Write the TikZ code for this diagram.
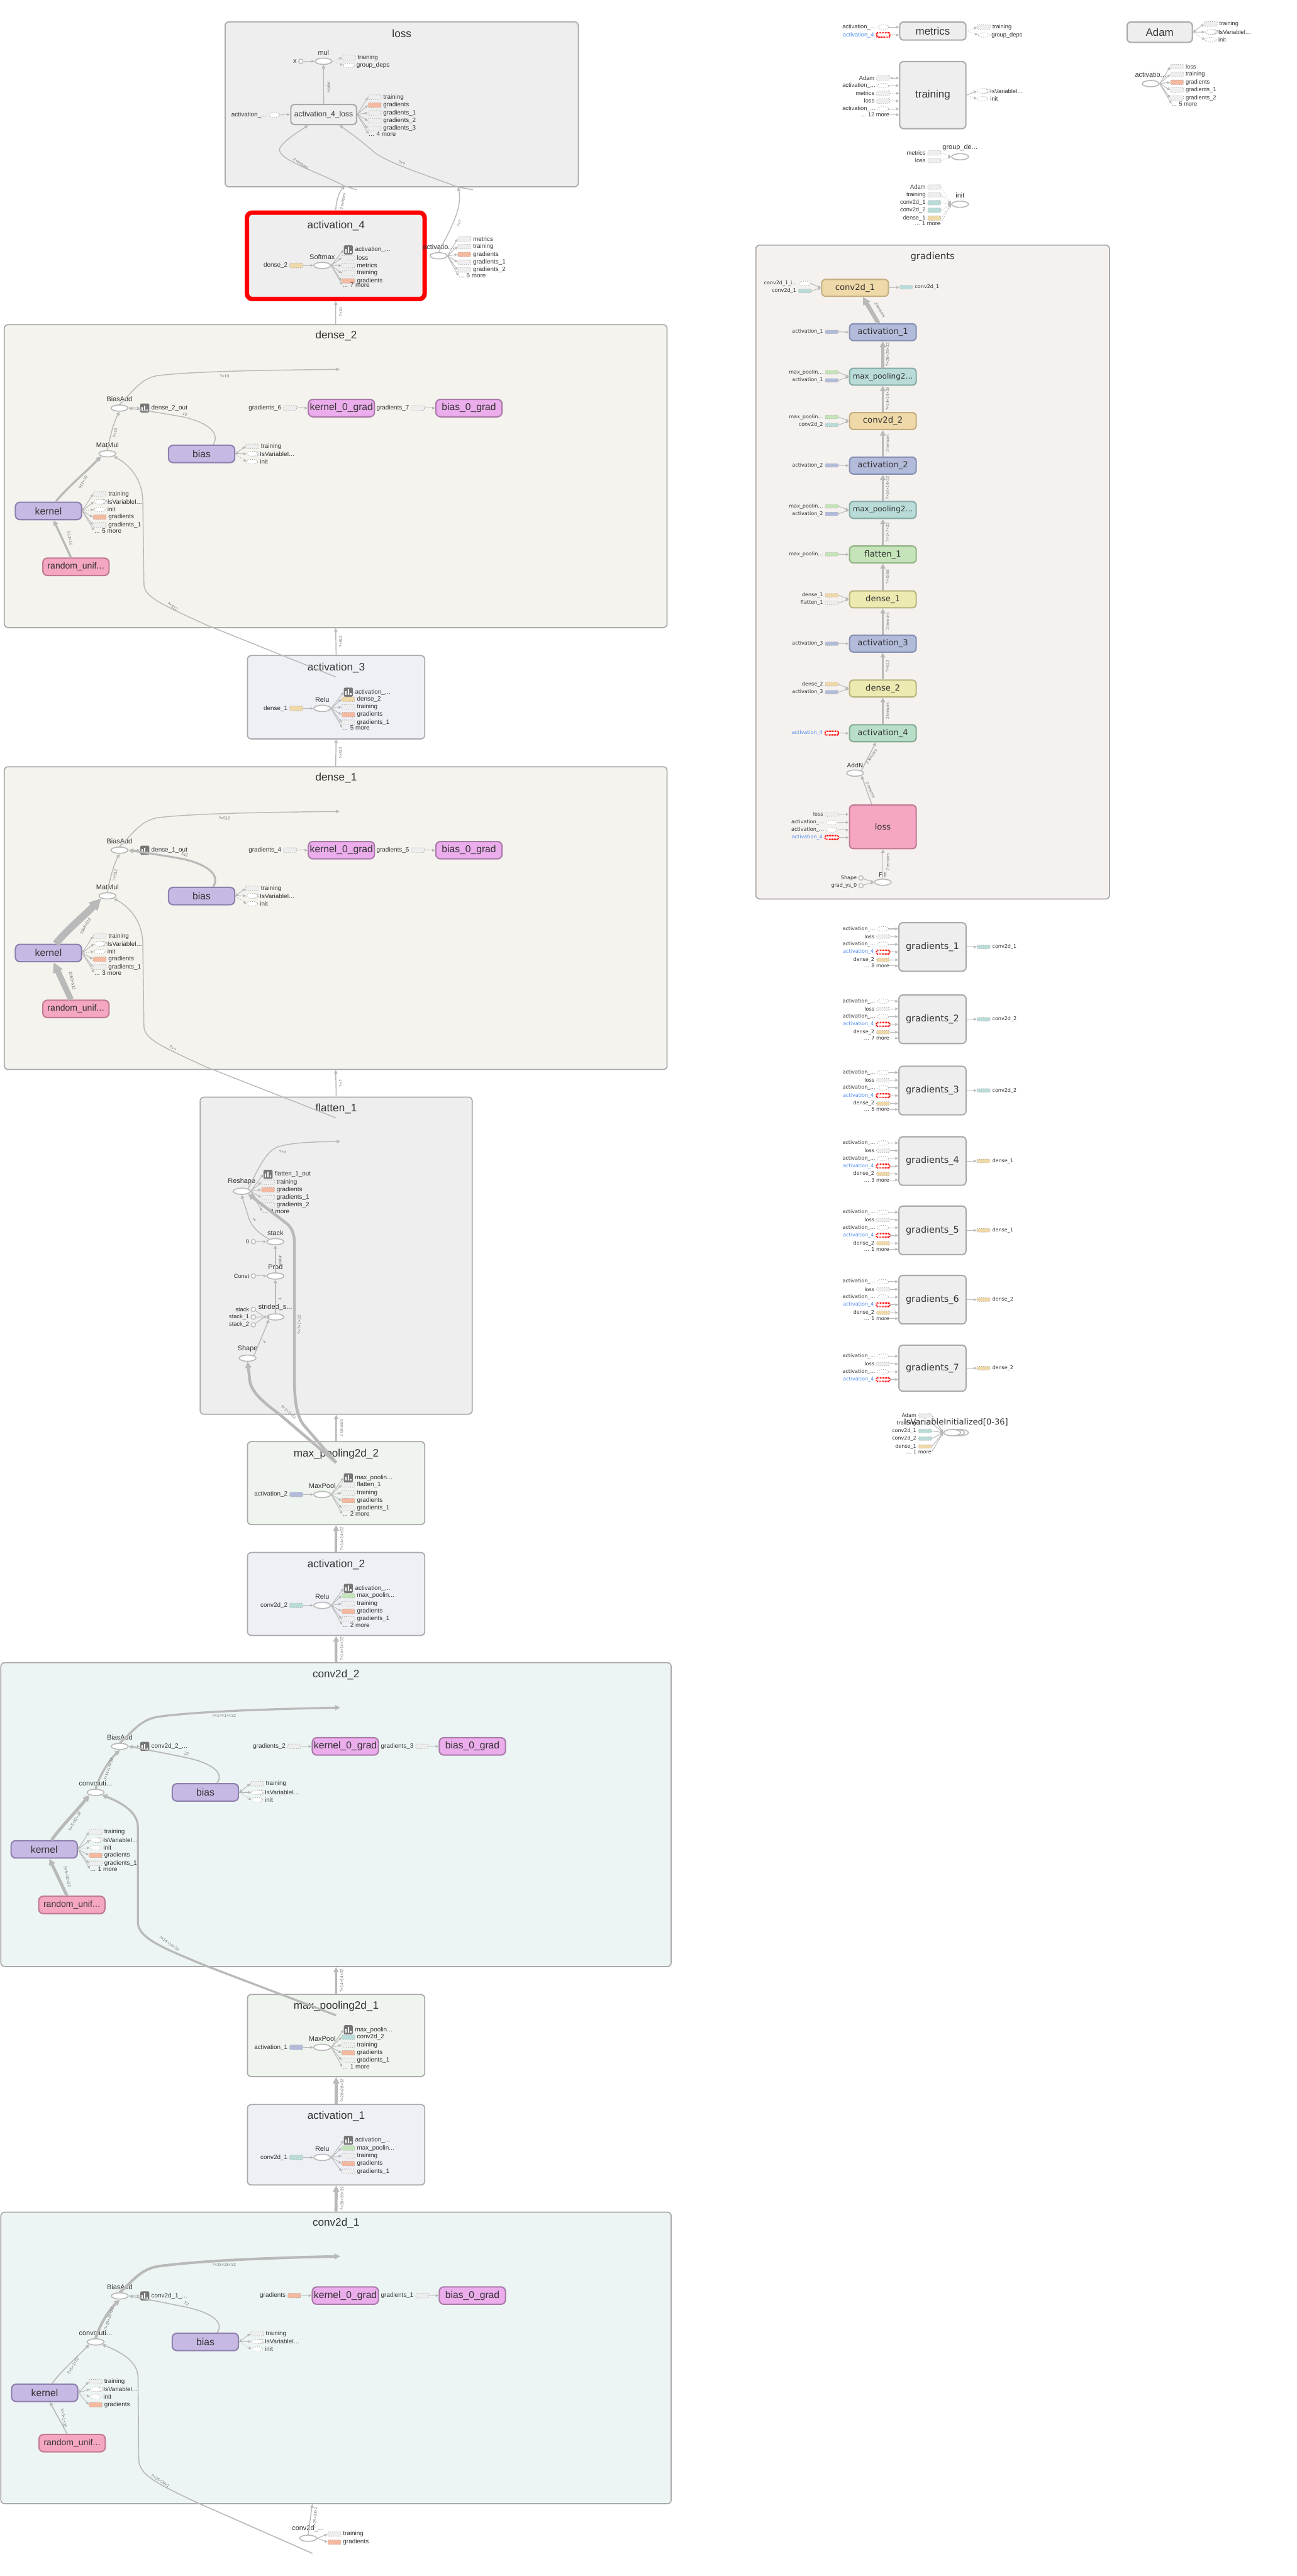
\documentclass[tikz,border=0pt]{standalone}
\usepackage{fontspec}
\setmainfont{Liberation Sans}
\newfontfamily\widefont{DejaVu Sans}
\usetikzlibrary{positioning,arrows.meta,shapes.geometric,shadows,fit}

\definecolor{edgec}{HTML}{B9B9B9}
\definecolor{clusb}{HTML}{AAAAAA}
\definecolor{stubb}{HTML}{A8A8A8}
\definecolor{txt}{HTML}{333333}
\definecolor{lblc}{HTML}{777777}
\definecolor{fgray}{HTML}{EEEEEE}
\definecolor{fdense}{HTML}{F4F3EE}
\definecolor{fact}{HTML}{EEF0F5}
\definecolor{fpool}{HTML}{F0F4EE}
\definecolor{fconv}{HTML}{EDF5F4}
\definecolor{fgrad}{HTML}{F5F1EE}
\definecolor{purpf}{HTML}{C6B9E3}
\definecolor{purpd}{HTML}{8E80AE}
\definecolor{pinkf}{HTML}{F5A6C0}
\definecolor{pinkd}{HTML}{C07A94}
\definecolor{magf}{HTML}{EBADEB}
\definecolor{magd}{HTML}{A97AA9}
\definecolor{tanc}{HTML}{F0D9A8}
\definecolor{tand}{HTML}{C4AE80}
\definecolor{bluec}{HTML}{B3BBDA}
\definecolor{blued}{HTML}{8590B4}
\definecolor{tealc}{HTML}{BADCD9}
\definecolor{teald}{HTML}{86ABA7}
\definecolor{greenc}{HTML}{C5E4B9}
\definecolor{greend}{HTML}{92B486}
\definecolor{yelc}{HTML}{EDEAB1}
\definecolor{yeld}{HTML}{B8B47E}
\definecolor{mintc}{HTML}{B8DDC8}
\definecolor{mintd}{HTML}{84AC94}
\definecolor{salm}{HTML}{F4B9A0}
\definecolor{iconc}{HTML}{777777}
\definecolor{linkc}{HTML}{4D8BF0}

\newcommand{\ddd}{.\kern0.02em.\kern0.02em.}
\newcommand{\fanout}[4]{%
  \foreach \yy/\st/\es/\tx [count=\i] in {#4}{%
    \node[\st] (#3\i) at (#2,\yy) {};
    \node[fanlbl, anchor=west] (#3\i-t) at ([xshift=1.3pt]#3\i.east) {\tx};
    \draw[\es] (#1) -- (#3\i.west);
  }}
\newcommand{\fanin}[4]{%
  \foreach \yy/\st/\es/\tx [count=\i] in {#4}{%
    \node[\st] (#3\i) at (#2,\yy) {};
    \node[fanlbl, anchor=east] (#3\i-t) at ([xshift=-1.3pt]#3\i.west) {\tx};
    \draw[\es] (#3\i.east) -- (#1);
  }}
\newcommand{\actgroup}[7]{%
  \begin{scope}[shift={(0,#2)}]
    \node[op] (#1op) at (196.1,32.2) {};
    \node[oplbl, above=1.8pt of #1op] (#1op-l) {#3};
    \fanin{#1op.west}{180.3}{#1in}{32.2/#4/fe/#5}
    \fanout{#1op.east}{212}{#1out}{#6}
    \ifx\relax#7\relax\else
      \node[fanlbl, anchor=west] (#1more) at (208.3,44.1) {#7};
      \draw[fe] (#1op.east) -- (#1more.west);
    \fi
  \end{scope}}

\begin{document}
\begin{tikzpicture}[x=0.0445cm, y=-0.0445cm,
  clus/.style={draw=clusb, line width=0.85pt, rounded corners=3pt, inner sep=0pt},
  ttl/.style={text=txt, font=\fontsize{8.3}{9}\selectfont, inner sep=0pt},
  op/.style={ellipse, draw=edgec, fill=white, line width=0.8pt, minimum width=13pt, minimum height=4.8pt, inner sep=0pt},
  oplbl/.style={text=txt, font=\fontsize{5.3}{6}\selectfont, inner sep=0pt},
  clbl/.style={text=txt, font=\fontsize{4.5}{5}\selectfont, inner sep=0pt},
  cst/.style={circle, draw=edgec, fill=white, line width=0.7pt, minimum size=3.4pt, inner sep=0pt},
  stub/.style={rectangle, rounded corners=0.6pt, draw=stubb, densely dotted, line width=0.45pt, fill=fgray, minimum width=10pt, minimum height=3.6pt, inner sep=0pt},
  sgray/.style={stub},
  sor/.style={stub, fill=salm},
  steal/.style={stub, fill=tealc},
  stan/.style={stub, fill=tanc},
  sblue/.style={stub, fill=bluec},
  sgreen/.style={stub, fill=greenc},
  sred/.style={stub, draw=red, solid, dash pattern=on 0.7pt off 0.5pt, line width=1.1pt, fill=white},
  swhite/.style={ellipse, draw=stubb, densely dotted, line width=0.45pt, fill=white, minimum width=8.5pt, minimum height=3.6pt, inner sep=0pt},
  svar/.style={swhite, double copy shadow={shadow xshift=1pt, shadow yshift=0pt}},
  summ/.style={rectangle, rounded corners=0.8pt, fill=iconc, minimum width=7pt, minimum height=7pt, inner sep=0pt,
    path picture={
      \fill[white, sharp corners] ([xshift=-2.4pt,yshift=1.2pt]path picture bounding box.south) rectangle ++(1.1pt,3pt);
      \fill[white, sharp corners] ([xshift=-0.55pt,yshift=1.2pt]path picture bounding box.south) rectangle ++(1.1pt,4.4pt);
      \fill[white, sharp corners] ([xshift=1.3pt,yshift=1.2pt]path picture bounding box.south) rectangle ++(1.1pt,1.4pt);}},
  fanlbl/.style={text=txt, font=\fontsize{4.8}{5}\selectfont, inner sep=0pt},
  fe/.style={draw=edgec, line width=0.5pt, -{Triangle[length=2.3pt,width=2.1pt]}},
  fb/.style={draw=edgec, line width=0.5pt, {Triangle[length=2.3pt,width=2.1pt]}-{Triangle[length=2.3pt,width=2.1pt]}},
  fd/.style={fe, densely dotted},
  ed/.style={draw=edgec, line width=0.7pt, -{Triangle[length=1.8pt 1.3,width=1.8pt 1.3]}},
  elbl/.style={text=lblc, font=\fontsize{3.2}{3.5}\selectfont, inner sep=0pt},
  plainnode/.style={draw=clusb, fill=fgray, line width=1pt, rounded corners=3pt, inner sep=0pt, text=txt, font=\fontsize{8.2}{9}\selectfont},
  layernode/.style={rounded corners=3.5pt, line width=1pt, inner sep=0pt, text=txt, minimum width=51pt, minimum height=13.4pt, font=\fontsize{7.6}{9}\selectfont},
  purpnode/.style={layernode, fill=purpf, draw=purpd},
  pinknode/.style={layernode, fill=pinkf, draw=pinkd, font=\fontsize{6.8}{8}\selectfont},
  magnode/.style={layernode, fill=magf, draw=magd},
  gnode/.style={rounded corners=3pt, line width=1pt, minimum width=51.4pt, minimum height=13pt, inner sep=0pt, text=txt, font=\widefont\fontsize{6.4}{7}\selectfont}
]
\useasboundingbox (0,0) rectangle (789,1568);

\node[clus, fill=fgray, fit={(137,13.3) (352,113.7)}] (lossbox) {};
\node[clus, fill=fgray, draw=red, line width=3.4pt, rounded corners=4pt, fit={(150.3,129.4) (258.4,182)}] (act4box) {};
\node[clus, fill=fdense, fit={(2.6,197.6) (406,382)}] (dense2box) {};
\node[clus, fill=fact, fit={(150.6,399) (258.5,449.8)}] (act3box) {};
\node[clus, fill=fdense, fit={(2.6,466.7) (406,651)}] (dense1box) {};
\node[clus, fill=fgray, fit={(121.8,667.8) (287.4,860.8)}] (flatbox) {};
\node[clus, fill=fpool, fit={(150.6,877.5) (258.5,928)}] (mp2box) {};
\node[clus, fill=fact, fit={(150.6,945) (258.5,995.5)}] (act2box) {};
\node[clus, fill=fconv, fit={(0.5,1012) (408.5,1197)}] (conv2box) {};
\node[clus, fill=fpool, fit={(150.6,1214) (258.5,1264)}] (mp1box) {};
\node[clus, fill=fact, fit={(150.6,1281) (258.5,1330)}] (act1box) {};
\node[clus, fill=fconv, fit={(0.5,1346.5) (408.5,1524)}] (conv1box) {};
\node[clus, fill=fgrad, fit={(460,149.2) (675.3,547.2)}] (gradbox) {};

\node[ttl] (losst) at (244.5,20.5) {loss};
\node[ttl] (act4t) at (204.5,137.3) {activation\_4};
\node[ttl] (dense2t) at (204.6,204.6) {dense\_2};
\node[ttl] (act3t) at (204.6,406.5) {activation\_3};
\node[ttl] (dense1t) at (204.6,473.7) {dense\_1};
\node[ttl] (flatt) at (204.6,674.7) {flatten\_1};
\node[ttl] (mp2t) at (204.6,885) {max\_pooling2d\_2};
\node[ttl] (act2t) at (204.6,952.3) {activation\_2};
\node[ttl] (conv2t) at (204.5,1019.3) {conv2d\_2};
\node[ttl] (mp1t) at (204.6,1221.3) {max\_pooling2d\_1};
\node[ttl] (act1t) at (204.6,1288.3) {activation\_1};
\node[ttl] (conv1t) at (204.5,1353.3) {conv2d\_1};
\node[ttl, font=\widefont\fontsize{7.2}{8}\selectfont] (gradt) at (567.6,156.3) {gradients};

\draw[ed] (dense2box.north) -- (act4box.south);
\node[elbl, rotate=90] at (207.4,189.8) {?×10};
\draw[ed] (act3box.north) -- (dense2box.south);
\node[elbl, rotate=90] at (207.4,390.5) {?×512};
\draw[ed] (dense1box.north) -- (act3box.south);
\node[elbl, rotate=90] at (207.4,458.2) {?×512};
\draw[ed] (flatbox.north) -- (dense1box.south);
\node[elbl, rotate=90] at (207.4,659.4) {?×?};
\draw[ed, line width=1.2pt] (mp2box.north) -- (flatbox.south);
\node[elbl, rotate=90] at (207.8,869.2) {2 tensors};
\draw[ed, line width=2pt] (act2box.north) -- (mp2box.south);
\node[elbl, rotate=90] at (208,936.5) {?×14×14×32};
\draw[ed, line width=2pt] (conv2box.north) -- (act2box.south);
\node[elbl, rotate=90] at (208,1003.7) {?×14×14×32};
\draw[ed, line width=1.6pt] (mp1box.north) -- (conv2box.south);
\node[elbl, rotate=90] at (208,1205.5) {?×14×14×32};
\draw[ed, line width=2.4pt] (act1box.north) -- (mp1box.south);
\node[elbl, rotate=90] at (208.2,1272.5) {?×28×28×32};
\draw[ed, line width=2.4pt] (conv1box.north) -- (act1box.south);
\node[elbl, rotate=90] at (208.2,1338.2) {?×28×28×32};

\node[op] (mul) at (196.9,37.3) {};
\node[oplbl, above=1.8pt of mul] (mul-l) {mul};
\node[cst] (xc) at (183.1,37.3) {};
\node[oplbl, left=1pt of xc] (xc-l) {x};
\draw[fe] (xc) -- (mul);
\fanout{mul.east}{212.3}{mulo}{35.1/sgray/fd/training, 39.8/swhite/fd/group\_deps}
\node[plainnode, minimum width=50.7pt, minimum height=15.5pt, font=\fontsize{5.9}{7}\selectfont] (a4loss) at (197,69.7) {activation\_4\_loss};
\fanin{a4loss.west}{167}{a4li}{70/swhite/fe/activation\_\ddd}
\draw[ed] (a4loss) -- (mul);
\node[elbl, rotate=90] (scal-l) at (199.8,53) {scalar};
\fanout{a4loss.east}{228}{a4lo}{59.2/sgray/fe/training, 64/sor/fe/gradients, 68.7/sgray/fe/gradients\_1, 73.5/sgray/fe/gradients\_2, 78.2/sgray/fe/gradients\_3}
\node[fanlbl, anchor=west] (a4lo-m) at (224.3,81.6) {\ddd{} 4 more};
\draw[fe] (a4loss.east) -- (a4lo-m.west);

\actgroup{a4}{129.4}{Softmax}{stan}{dense\_2}{22.7/summ/fe/activation\_\ddd, 27.5/sgray/fe/loss, 32.2/sgray/fe/metrics, 36.9/sgray/fe/training, 41.6/sor/fe/gradients}{\ddd{} 7 more}
\node[op] (a4x) at (266.9,155.7) {};
\node[oplbl, above=1.8pt of a4x] (a4x-l) {activatio\ddd};
\fanout{a4x.east}{282.6}{a4xo}{145.4/sgray/fe/metrics, 150.1/sgray/fe/training, 154.9/sor/fe/gradients, 159.6/sgray/fe/gradients\_1, 164.3/sgray/fe/gradients\_2}
\node[fanlbl, anchor=west] (a4xo-m) at (279,167.9) {\ddd{} 5 more};
\draw[fe] (a4x.east) -- (a4xo-m.west);

\coordinate (l2in) at (209.9,113.3);
\coordinate (l2tail) at (217,115.5);
\coordinate (l3in) at (278.8,113.9);
\coordinate (l3tail) at (287.9,115.5);
\draw[ed] (act4box.north) .. controls (204.5,121) and (207,116) .. (l2in);
\node[elbl, rotate=80] at (208.6,122.5) {2 tensors};
\draw[draw=edgec, line width=0.7pt] (l2in) -- (l2tail);
\draw[ed] (l2in) .. controls (190,103) and (165,96) .. (171,89) .. controls (175,84) and (182,80) .. ([xshift=-12pt]a4loss.south);
\node[elbl, rotate=-32] at (183,99.5) {2 tensors};
\draw[ed] (a4x.north) .. controls (271,145) and (282,128) .. (l3in);
\node[elbl, rotate=72] at (279.5,136) {?×?};
\draw[draw=edgec, line width=0.7pt] (l3in) -- (l3tail);
\draw[ed] (l3in) .. controls (258,106) and (235,99) .. (227,92) .. controls (219,85) and (212,80) .. ([xshift=12pt]a4loss.south);
\node[elbl, rotate=-22] at (244.5,99.3) {?×?};

\begin{scope}[shift={(0,197.6)}]
\node[op] (d2add) at (72.7,50.8) {};
\node[oplbl, above=1.8pt of d2add] (d2add-l) {BiasAdd};
\node[summ] (d2sum) at (88.1,50.8) {};
\node[fanlbl, anchor=west] (d2sum-l) at (92,50.8) {dense\_2\_out};
\draw[fe] (d2add) -- (d2sum);
\coordinate (d2out) at (206.7,27.2);
\draw[ed] (d2add.north) .. controls (81,41) and (85,33) .. (96,31) .. controls (118,28.5) and (155,27.8) .. (d2out);
\node[elbl] at (136.6,31.3) {?×10};
\node[op] (d2mm) at (65.4,78.6) {};
\node[oplbl, above=1.8pt of d2mm] (d2mm-l) {MatMul};
\draw[ed] (d2mm.north) .. controls (67,68) and (69,60) .. (d2add.south);
\node[elbl, rotate=80] at (70,66) {?×10};
\node[purpnode] (d2bias) at (122.7,78.7) {bias};
\draw[ed] ([xshift=9pt]d2bias.north) .. controls (134,66) and (127,60) .. (112.5,56.4) .. controls (100,54) and (86,52) .. (d2add.east);
\node[elbl, rotate=-22] at (112.5,54.4) {10};
\fanout{d2bias.east}{153.5}{d2bo}{74.1/sgray/fb/training, 78.6/svar/fe/IsVariableI\ddd, 83.4/swhite/fd/init}
\node[purpnode] (d2ker) at (29.5,113.4) {kernel};
\draw[ed, line width=1.6pt] ([xshift=5.7pt]d2ker.north) .. controls (40,100) and (52,90) .. (d2mm.south west);
\node[elbl, rotate=60] at (50.5,96) {512×10};
\fanout{d2ker.east}{60.7}{d2ko}{103.1/sgray/fb/training, 107.8/svar/fe/IsVariableI\ddd, 112.5/swhite/fd/init, 117.2/sor/fe/gradients, 121.9/sgray/fe/gradients\_1}
\node[fanlbl, anchor=west] (d2ko-m) at (57.3,125.4) {\ddd{} 5 more};
\draw[fe] (d2ker.east) -- (d2ko-m.west);
\node[pinknode] (d2rnd) at (46.2,147.4) {random\_unif\ddd};
\draw[ed, line width=1.6pt] ([xshift=-3.8pt]d2rnd.north) -- ([xshift=4pt]d2ker.south);
\node[elbl, rotate=-78] at (42.5,130.2) {512×10};
\node[magnode] (d2kg) at (207.8,50.8) {kernel\_0\_grad};
\node[magnode] (d2bg) at (285.4,50.8) {bias\_0\_grad};
\fanin{d2kg.west}{176.5}{d2kgi}{50.8/sgray/fe/gradients\_6}
\fanin{d2bg.west}{254.3}{d2bgi}{50.8/sgray/fe/gradients\_7}
\coordinate (d2src) at (204.3,214.4);
\draw[ed] (d2src) -- (125.6,182.8) .. controls (100,171) and (87.6,166) .. (87.6,158) -- (86.9,107) .. controls (86.5,95) and (80,86) .. (d2mm.south east);
\node[elbl, rotate=-35] at (105,171.5) {?×512};
\end{scope}

\actgroup{a3}{399}{Relu}{stan}{dense\_1}{22.3/summ/fe/activation\_\ddd, 26.6/stan/fe/dense\_2, 31.3/sgray/fe/training, 36/sor/fe/gradients, 40.7/sgray/fe/gradients\_1}{\ddd{} 5 more}

\begin{scope}[shift={(0,466.7)}]
\node[op] (d1add) at (72.7,50.8) {};
\node[oplbl, above=1.8pt of d1add] (d1add-l) {BiasAdd};
\node[summ] (d1sum) at (88.1,50.8) {};
\node[fanlbl, anchor=west] (d1sum-l) at (92,50.8) {dense\_1\_out};
\draw[fe] (d1add) -- (d1sum);
\coordinate (d1out) at (206.7,27.2);
\draw[ed] (d1add.north) .. controls (81,41) and (85,33) .. (96,31) .. controls (118,28.5) and (155,27.8) .. (d1out);
\node[elbl] at (136.6,31.3) {?×512};
\node[op] (d1mm) at (65.4,78.6) {};
\node[oplbl, above=1.8pt of d1mm] (d1mm-l) {MatMul};
\draw[ed] (d1mm.north) .. controls (67,68) and (69,60) .. (d1add.south);
\node[elbl, rotate=80] at (70,66) {?×512};
\node[purpnode] (d1bias) at (122.7,78.7) {bias};
\draw[ed, line width=1.5pt] ([xshift=9pt]d1bias.north) .. controls (134,66) and (127,60) .. (112.5,56.4) .. controls (100,54) and (86,52) .. (d1add.east);
\node[elbl, rotate=-22] at (112.5,53.6) {512};
\fanout{d1bias.east}{153.5}{d1bo}{74.1/sgray/fb/training, 78.6/svar/fe/IsVariableI\ddd, 83.4/swhite/fd/init}
\node[purpnode] (d1ker) at (29.5,113.4) {kernel};
\draw[ed, line width=5.5pt] ([xshift=5.7pt]d1ker.north) .. controls (40,100) and (52,90) .. (d1mm.south west);
\node[elbl, rotate=60] at (52,97) {1568×512};
\fanout{d1ker.east}{60.7}{d1ko}{103.1/sgray/fb/training, 107.8/svar/fe/IsVariableI\ddd, 112.5/swhite/fd/init, 117.2/sor/fe/gradients, 121.9/sgray/fe/gradients\_1}
\node[fanlbl, anchor=west] (d1ko-m) at (57.3,125.4) {\ddd{} 3 more};
\draw[fe] (d1ker.east) -- (d1ko-m.west);
\node[pinknode] (d1rnd) at (46.2,147.4) {random\_unif\ddd};
\draw[ed, line width=4.5pt] ([xshift=-3.8pt]d1rnd.north) -- ([xshift=4pt]d1ker.south);
\node[elbl, rotate=-78] at (44,130.2) {1568×512};
\node[magnode] (d1kg) at (207.8,50.8) {kernel\_0\_grad};
\node[magnode] (d1bg) at (285.4,50.8) {bias\_0\_grad};
\fanin{d1kg.west}{176.5}{d1kgi}{50.8/sgray/fe/gradients\_4}
\fanin{d1bg.west}{254.3}{d1bgi}{50.8/sgray/fe/gradients\_5}
\coordinate (d1src) at (204.6,213.8);
\draw[ed] (d1src) -- (125.6,182.8) .. controls (100,171) and (87.6,166) .. (87.6,158) -- (86.9,107) .. controls (86.5,95) and (80,86) .. (d1mm.south east);
\node[elbl, rotate=-35] at (105,171.5) {?×?};
\end{scope}

\node[op] (reshape) at (147.1,725.1) {};
\node[oplbl, above=1.8pt of reshape] (reshape-l) {Reshape};
\coordinate (flout) at (207.1,694.8);
\draw[ed] (reshape.north east) .. controls (156,714) and (161,702) .. (168,698.5) .. controls (176,695.5) and (190,695) .. (flout);
\node[elbl, rotate=-8] at (172,701.2) {?×?};
\fanout{reshape.east}{163.1}{rso}{714.8/summ/fe/flatten\_1\_out, 719.6/sgray/fe/training, 724.2/sor/fe/gradients, 728.9/sgray/fe/gradients\_1, 733.6/sgray/fe/gradients\_2}
\node[fanlbl, anchor=west] (rso-m) at (159.5,737.3) {\ddd{} 2 more};
\draw[fe] (reshape.east) -- (rso-m.west);
\node[op] (stack) at (167.6,755.8) {};
\node[oplbl, above=1.8pt of stack] (stack-l) {stack};
\node[cst] (c0) at (154.2,755.8) {};
\node[clbl, left=1pt of c0] (c0-l) {0};
\draw[fe] (c0) -- (stack);
\draw[ed] (stack.north west) .. controls (160,752) and (153,748) .. (151,740) .. controls (149.5,735) and (148,731) .. (reshape.south);
\node[elbl, rotate=60] at (154.8,742.5) {2};
\node[op] (prod) at (167.6,776.7) {};
\node[oplbl, above=1.8pt of prod] (prod-l) {Prod};
\node[cst] (cconst) at (154.2,776.7) {};
\node[clbl, left=1pt of cconst] (cconst-l) {Const};
\draw[fe] (cconst) -- (prod);
\draw[ed] (prod) -- (stack);
\node[elbl, rotate=90] at (170.4,767.5) {scalar};
\node[op] (strided) at (167.6,801.6) {};
\node[oplbl, above=1.8pt of strided] (strided-l) {strided\_s\ddd};
\node[diamond, fill=edgec, minimum size=2.6pt, inner sep=0pt] (sjoin) at (161.2,801.6) {};
\foreach \yy/\nm [count=\i] in {797/stack, 801.7/stack\_1, 806.4/stack\_2}{
  \node[cst] (sti\i) at (154.2,\yy) {};
  \node[clbl, left=1pt of sti\i] (sti\i-l) {\nm};
  \draw[draw=edgec, line width=0.5pt] (sti\i) -- (sjoin);
}
\draw[fe] (sjoin) -- (strided);
\draw[ed] (strided) -- (prod);
\node[elbl, rotate=90] at (170.4,790.9) {3};
\node[op] (shape) at (150.7,826.7) {};
\node[oplbl, above=1.8pt of shape] (shape-l) {Shape};
\draw[ed] (shape.north east) -- (strided.south west);
\node[elbl, rotate=50] at (161,816.8) {4};
\coordinate (mp2src) at (204.6,890.3);
\draw[ed, line width=2.2pt] (mp2src) -- (170.3,861) .. controls (158,852) and (151.8,846) .. (151.8,838) -- (shape.south);
\node[elbl, rotate=-40] at (175.5,859.5) {?×7×7×32};
\draw[ed, line width=2.2pt] (mp2src) -- (184.4,866.9) .. controls (180.5,861) and (179.2,852) .. (179.2,840) -- (179.2,757) .. controls (179.2,750) and (177,747) .. (174.7,744.9) -- (reshape.south east);
\node[elbl, rotate=90] at (182.2,806.3) {?×7×7×32};

\actgroup{p2}{877.5}{MaxPool}{sblue}{activation\_2}{22/summ/fe/max\_poolin\ddd, 26.4/sgray/fe/flatten\_1, 31.2/sgray/fe/training, 35.9/sor/fe/gradients, 40.5/sgray/fe/gradients\_1}{\ddd{} 2 more}
\actgroup{a2}{945}{Relu}{steal}{conv2d\_2}{21.8/summ/fe/activation\_\ddd, 26.3/sgreen/fe/max\_poolin\ddd, 31.1/sgray/fe/training, 35.8/sor/fe/gradients, 40.5/sgray/fe/gradients\_1}{\ddd{} 2 more}

\begin{scope}[shift={(0,1012)}]
\node[op] (c2add) at (72.9,51) {};
\node[oplbl, above=1.8pt of c2add] (c2add-l) {BiasAdd};
\node[summ] (c2sum) at (88.1,51) {};
\node[fanlbl, anchor=west] (c2sum-l) at (92,51) {conv2d\_2\_\ddd};
\draw[fe] (c2add) -- (c2sum);
\coordinate (c2out) at (207.1,27.4);
\draw[ed, line width=1.6pt] (c2add.north) .. controls (81,42) and (85,35) .. (96,33) .. controls (118,30) and (155,28.5) .. (c2out);
\node[elbl] at (136.4,32.4) {?×14×14×32};
\node[op] (c2conv) at (58.2,79) {};
\node[oplbl, above=1.8pt of c2conv] (c2conv-l) {convoluti\ddd};
\draw[ed, line width=1.6pt] (c2conv.north) .. controls (61,68) and (66,60) .. (c2add.south);
\node[elbl, rotate=72] at (66,65) {?×14×14×32};
\node[purpnode] (c2bias) at (125,79) {bias};
\draw[ed, line width=0.9pt] ([xshift=9pt]c2bias.north) .. controls (137,67) and (128,61) .. (114,58) .. controls (100,55) and (86,52.5) .. (c2add.east);
\node[elbl, rotate=-22] at (113.5,55.6) {32};
\fanout{c2bias.east}{156.5}{c2bo}{73.7/sgray/fb/training, 79/svar/fe/IsVariableI\ddd, 83.6/swhite/fd/init}
\node[purpnode] (c2ker) at (26.9,113.7) {kernel};
\draw[ed, line width=2.4pt] ([xshift=5.7pt]c2ker.north) .. controls (37,100) and (47,90) .. (c2conv.south west);
\node[elbl, rotate=60] at (45.5,96.5) {5×5×32×32};
\fanout{c2ker.east}{58.2}{c2ko}{103.2/sgray/fb/training, 108/svar/fe/IsVariableI\ddd, 112.7/swhite/fd/init, 117.3/sor/fe/gradients, 122.2/sgray/fe/gradients\_1}
\node[fanlbl, anchor=west] (c2ko-m) at (54.8,125.6) {\ddd{} 1 more};
\draw[fe] (c2ker.east) -- (c2ko-m.west);
\node[pinknode] (c2rnd) at (43.7,147.5) {random\_unif\ddd};
\draw[ed, line width=2.4pt] ([xshift=-3.8pt]c2rnd.north) -- ([xshift=4pt]c2ker.south);
\node[elbl, rotate=-78] at (41,130.4) {5×5×32×32};
\node[magnode] (c2kg) at (210.2,51) {kernel\_0\_grad};
\node[magnode] (c2bg) at (287.5,51) {bias\_0\_grad};
\fanin{c2kg.west}{179.1}{c2kgi}{51/sgray/fe/gradients\_2}
\fanin{c2bg.west}{257}{c2bgi}{51/sgray/fe/gradients\_3}
\coordinate (c2src) at (204.5,214.7);
\draw[ed, line width=1.6pt] (c2src) -- (125.9,184.8) .. controls (100,174) and (84,168) .. (83.9,158) -- (83.9,100) .. controls (83.9,92) and (76,86) .. (c2conv.south east);
\node[elbl, rotate=-35] at (103,171) {?×14×14×32};
\end{scope}

\actgroup{p1}{1214}{MaxPool}{sblue}{activation\_1}{21.5/summ/fe/max\_poolin\ddd, 26/steal/fe/conv2d\_2, 30.8/sgray/fe/training, 35.5/sor/fe/gradients, 40.1/sgray/fe/gradients\_1}{\ddd{} 1 more}
\actgroup{a1}{1281}{Relu}{steal}{conv2d\_1}{21.8/summ/fe/activation\_\ddd, 26.5/sgreen/fe/max\_poolin\ddd, 31.2/sgray/fe/training, 35.9/sor/fe/gradients, 40.7/sgray/fe/gradients\_1}{}

\begin{scope}[shift={(0,1346.5)}]
\node[op] (c1add) at (72.9,51) {};
\node[oplbl, above=1.8pt of c1add] (c1add-l) {BiasAdd};
\node[summ] (c1sum) at (88.1,51) {};
\node[fanlbl, anchor=west] (c1sum-l) at (92,51) {conv2d\_1\_\ddd};
\draw[fe] (c1add) -- (c1sum);
\coordinate (c1out) at (207.1,26.9);
\draw[ed, line width=2pt] (c1add.north) .. controls (81,42) and (85,35) .. (96,33) .. controls (118,30) and (155,28) .. (c1out);
\node[elbl] at (136.4,32.2) {?×28×28×32};
\node[op] (c1conv) at (58.2,79) {};
\node[oplbl, above=1.8pt of c1conv] (c1conv-l) {convoluti\ddd};
\draw[ed, line width=2pt] (c1conv.north) .. controls (61,68) and (66,60) .. (c1add.south);
\node[elbl, rotate=72] at (66.3,65) {?×28×28×32};
\node[purpnode] (c1bias) at (125,79) {bias};
\draw[ed, line width=0.8pt] ([xshift=9pt]c1bias.north) .. controls (137,67) and (128,61) .. (114,58) .. controls (100,55) and (86,52.5) .. (c1add.east);
\node[elbl, rotate=-22] at (113.5,55.8) {32};
\fanout{c1bias.east}{156.5}{c1bo}{73.9/sgray/fb/training, 78.7/svar/fe/IsVariableI\ddd, 83.4/swhite/fd/init}
\node[purpnode] (c1ker) at (27.2,110) {kernel};
\draw[ed, line width=0.8pt] ([xshift=5.7pt]c1ker.north) .. controls (37,97) and (47,88) .. (c1conv.south west);
\node[elbl, rotate=60] at (44.5,93.5) {5×5×1×32};
\fanout{c1ker.east}{58.2}{c1ko}{103.2/sgray/fb/training, 107.8/svar/fe/IsVariableI\ddd, 112.3/swhite/fd/init, 117.2/sor/fe/gradients}
\node[pinknode] (c1rnd) at (43.9,140.6) {random\_unif\ddd};
\draw[ed, line width=0.8pt] ([xshift=-3.8pt]c1rnd.north) -- ([xshift=4pt]c1ker.south);
\node[elbl, rotate=-80] at (38.8,125.5) {5×5×1×32};
\node[magnode] (c1kg) at (210.2,50.8) {kernel\_0\_grad};
\node[magnode] (c1bg) at (287.5,50.8) {bias\_0\_grad};
\fanin{c1kg.west}{179.1}{c1kgi}{50.8/sor/fe/gradients}
\fanin{c1bg.west}{257}{c1bgi}{50.8/sgray/fe/gradients\_1}
\coordinate (c1src) at (190.1,207.7);
\draw[ed, line width=0.8pt] (c1src) -- (120.6,177.1) .. controls (95,165) and (84.4,160) .. (84.4,150) -- (84,100) .. controls (83.6,92) and (76,86) .. (c1conv.south east);
\node[elbl, rotate=-33] at (97.5,163.5) {?×28×28×1};
\end{scope}

\node[op] (cin) at (187.5,1545) {};
\node[oplbl, above=1.8pt of cin] (cin-l) {conv2d\_\ddd};
\fanout{cin.east}{203.5}{cino}{1542.5/sgray/fe/training, 1547.4/sor/fe/gradients}
\coordinate (c1bot) at (190.1,1524.3);
\draw[ed] (cin.north) -- (c1bot);
\node[elbl, rotate=86] at (191.8,1532.5) {?×28×28×1};

\begin{scope}[fanlbl/.style={text=txt, font=\widefont\fontsize{3.9}{4.2}\selectfont, inner sep=0pt}, stub/.append style={minimum height=2.8pt}]
\node[gnode, fill=tanc, draw=tand] (gconv1) at (520.4,175.2) {conv2d\_1};
\node[gnode, fill=bluec, draw=blued] (gact1) at (537.3,202.2) {activation\_1};
\node[gnode, fill=tealc, draw=teald, font=\widefont\fontsize{5.8}{7}\selectfont] (gpool1) at (537.3,229.3) {max\_pooling2\ddd};
\node[gnode, fill=tanc, draw=tand] (gconv2) at (537.3,256.3) {conv2d\_2};
\node[gnode, fill=bluec, draw=blued] (gact2) at (537.3,283.4) {activation\_2};
\node[gnode, fill=tealc, draw=teald, font=\widefont\fontsize{5.8}{7}\selectfont] (gpool2) at (537.3,310.4) {max\_pooling2\ddd};
\node[gnode, fill=greenc, draw=greend] (gflat) at (537.3,337.5) {flatten\_1};
\node[gnode, fill=yelc, draw=yeld] (gdense1) at (537.3,364.8) {dense\_1};
\node[gnode, fill=bluec, draw=blued] (gact3) at (537.3,391.8) {activation\_3};
\node[gnode, fill=yelc, draw=yeld] (gdense2) at (537.3,419.1) {dense\_2};
\node[gnode, fill=mintc, draw=mintd] (gact4) at (537.3,446.3) {activation\_4};
\node[op] (gaddn) at (520.4,470.6) {};
\node[oplbl, font=\widefont\fontsize{4.6}{5}\selectfont, above=1.4pt of gaddn] (gaddn-l) {AddN};
\node[gnode, fill=pinkf, draw=pinkd, minimum height=33.6pt] (gloss) at (537.3,503.3) {loss};
\node[op] (gfill) at (537.3,537) {};
\node[oplbl, font=\widefont\fontsize{4.6}{5}\selectfont, above=1.2pt of gfill] (gfill-l) {Fill};
\node[cst] (gshape) at (524,534.4) {};
\node[fanlbl, left=1pt of gshape] (gshape-l) {Shape};
\node[cst] (gys) at (524,539.1) {};
\node[fanlbl, left=1pt of gys] (gys-l) {grad\_ys\_0};
\draw[fe] (gshape) -- (gfill.west);
\draw[fe] (gys) -- (gfill.west);

\draw[ed, line width=3.2pt] ([xshift=-3.5pt]gact1.north) -- ([xshift=6pt]gconv1.south);
\node[elbl, rotate=-58] at (535.5,188.5) {3 tensors};
\foreach \a/\b/\yy/\t/\w in {gpool1/gact1/215.75/?×28×28×32/2.2pt, gconv2/gpool1/242.8/?×14×14×32/1.8pt, gact2/gconv2/269.85/2 tensors/1.8pt, gpool2/gact2/296.9/?×14×14×32/1.8pt, gflat/gpool2/323.95/?×7×7×32/1.6pt, gdense1/gflat/351.15/?×1568/1.6pt, gact3/gdense1/378.3/3 tensors/1.6pt, gdense2/gact3/405.45/?×512/1.4pt, gact4/gdense2/432.7/3 tensors/1.4pt}{
  \draw[ed, line width=\w] (\a) -- (\b);
  \node[elbl, rotate=90] at (540.2,\yy) {\t};
}
\draw[ed] (gaddn.north east) -- ([xshift=-5.4pt]gact4.south);
\node[elbl, rotate=56] at (530.3,460.5) {2 tensors};
\draw[ed] ([xshift=-8.5pt]gloss.north) -- (gaddn.south east);
\node[elbl, rotate=-65] at (529.8,480.8) {2 tensors};
\draw[ed] (gfill) -- (gloss);
\node[elbl, rotate=90] at (540.3,524.8) {2 tensors};

\fanin{gconv1.west}{489.9}{gc1i}{172.5/swhite/fe/conv2d\_1\_i\ddd, 177.1/steal/fe/conv2d\_1}
\fanout{gconv1.east}{551.5}{gc1o}{174.8/steal/fe/conv2d\_1}
\fanin{gact1.west}{506.2}{ga1i}{202/sblue/fe/activation\_1}
\fanin{gpool1.west}{506.2}{gp1i}{226.6/sgreen/fe/max\_poolin\ddd, 231.5/sblue/fe/activation\_1}
\fanin{gconv2.west}{506.2}{gc2i}{253.8/sgreen/fe/max\_poolin\ddd, 258.7/steal/fe/conv2d\_2}
\fanin{gact2.west}{506.2}{ga2i}{283.3/sblue/fe/activation\_2}
\fanin{gpool2.west}{506.2}{gp2i}{308.2/sgreen/fe/max\_poolin\ddd, 312.8/sblue/fe/activation\_2}
\fanin{gflat.west}{506.2}{gfi}{337.4/sgreen/fe/max\_poolin\ddd}
\fanin{gdense1.west}{506.2}{gd1i}{362.3/stan/fe/dense\_1, 367/sgray/fe/flatten\_1}
\fanin{gact3.west}{506.2}{ga3i}{391.8/sblue/fe/activation\_3}
\fanin{gdense2.west}{506.2}{gd2i}{416.5/stan/fe/dense\_2, 421.3/sblue/fe/activation\_3}
\fanin{gact4.west}{506.2}{ga4i}{446.2/sred/fe/{\textcolor{linkc}{activation\_4}}}
\fanin{gloss.west |- gli\i}{506.2}{gli}{495.7/sgray/fe/loss, 500.6/swhite/fe/activation\_\ddd, 505.2/swhite/fe/activation\_\ddd, 509.8/sred/fe/{\textcolor{linkc}{activation\_4}}}

\foreach \k/\cy/\on/\oc/\om in {1/576.4/conv2d\_1/tealc/8, 2/620.4/conv2d\_2/tealc/7, 3/663.8/conv2d\_2/tealc/5, 4/706.7/dense\_1/tanc/3, 5/748.9/dense\_1/tanc/1, 6/791.1/dense\_2/tanc/1}{
  \node[plainnode, minimum width=51.7pt, minimum height=37.4pt, font=\widefont\fontsize{7}{8}\selectfont] (gk\k) at (567.5,\cy) {gradients\_\k};
  \fanin{gk\k.west |- gk\k i\i}{537.4}{gk\k i}{\cy-11/swhite/fe/activation\_\ddd, \cy-6.3/sgray/fe/loss, \cy-1.6/swhite/fe/activation\_\ddd, \cy+3.1/sred/fe/{\textcolor{linkc}{activation\_4}}, \cy+7.9/stan/fe/dense\_2}
  \node[fanlbl, anchor=east] (gk\k m) at (541.4,\cy+11.5) {\ddd{} \om{} more};
  \draw[fe] (gk\k m.east) -- (gk\k.west |- gk\k m);
  \node[stub, fill=\oc] (gk\k o) at (598.6,\cy) {};
  \node[fanlbl, anchor=west] (gk\k o-t) at ([xshift=1.3pt]gk\k o.east) {\on};
  \draw[fe] (gk\k.east) -- (gk\k o.west);
}
\node[plainnode, minimum width=51.7pt, minimum height=35.5pt, font=\widefont\fontsize{7}{8}\selectfont] (gk7) at (567.5,832.8) {gradients\_7};
\fanin{gk7.west |- gk7i\i}{537.4}{gk7i}{825.5/swhite/fe/activation\_\ddd, 830.3/sgray/fe/loss, 835/swhite/fe/activation\_\ddd, 839.7/sred/fe/{\textcolor{linkc}{activation\_4}}}
\node[stub, fill=tanc] (gk7o) at (598.6,832.8) {};
\node[fanlbl, anchor=west] (gk7o-t) at ([xshift=1.3pt]gk7o.east) {dense\_2};
\draw[fe] (gk7.east) -- (gk7o.west);

\node[op, double copy shadow={shadow xshift=3pt, shadow yshift=0pt}] (isvar) at (579.5,872) {};
\fanin{isvar.west}{563}{ivi}{861.6/sgray/fe/Adam, 866.3/sgray/fe/training, 871/steal/fe/conv2d\_1, 875.7/steal/fe/conv2d\_2, 880.5/stan/fe/dense\_1}
\node[fanlbl, anchor=east] (ivi-m) at (567,883.9) {\ddd{} 1 more};
\draw[fe] (ivi-m.east) -- (isvar.west);
\node[oplbl, font=\widefont\fontsize{6.3}{7}\selectfont] (isvar-l) at (581.8,865.6) {IsVariableInitialized[0-36]};
\end{scope}

\begin{scope}[fanlbl/.style={text=txt, font=\fontsize{4.5}{5}\selectfont, inner sep=0pt}]
\node[plainnode, minimum width=51pt, minimum height=13.9pt] (metrics) at (567.7,18.9) {metrics};
\fanin{metrics.west |- mti\i}{537.5}{mti}{16.5/swhite/fe/activation\_\ddd, 21.3/sred/fe/{\textcolor{linkc}{activation\_4}}}
\fanout{metrics.east}{598.7}{mto}{16.6/sgray/fd/training, 21.3/swhite/fd/group\_deps}
\node[plainnode, minimum width=51pt, minimum height=51.7pt] (training) at (567.7,57.9) {training};
\fanin{training.west |- tri\i}{537.5}{tri}{47.5/sgray/fb/Adam, 52.1/swhite/fe/activation\_\ddd, 56.8/sgray/fd/metrics, 61.5/sgray/fe/loss, 66.3/swhite/fe/activation\_\ddd}
\node[fanlbl, anchor=east] (tri-m) at (541.5,69.8) {\ddd{} 12 more};
\draw[fe] (tri-m.east) -- (training.west |- tri-m);
\fanout{training.east}{598}{tro}{55.4/svar/fe/IsVariableI\ddd, 60.2/swhite/fd/init}
\node[op] (gdeps) at (584.3,95.4) {};
\node[oplbl, above=1.8pt of gdeps] (gdeps-l) {group\_de\ddd};
\fanin{gdeps.west}{568.6}{gdi}{93.1/sgray/fd/metrics, 97.7/sgray/fd/loss}
\node[op] (init) at (584.3,124.3) {};
\node[oplbl, above=1.8pt of init] (init-l) {init};
\fanin{init.west}{568.6}{ini}{113.9/sgray/fd/Adam, 118.6/sgray/fd/training, 123.4/steal/fd/conv2d\_1, 128/steal/fd/conv2d\_2, 132.8/stan/fd/dense\_1}
\node[fanlbl, anchor=east] (ini-m) at (572.5,136.2) {\ddd{} 1 more};
\draw[fd] (ini-m.east) -- (init.west);
\node[plainnode, minimum width=50.3pt, minimum height=15.7pt] (adam) at (705.8,19.6) {Adam};
\fanout{adam.east}{736.8}{ado}{14.6/sgray/fb/training, 19.5/svar/fe/IsVariableI\ddd, 24.2/swhite/fd/init}
\node[op] (actx) at (700.3,50.9) {};
\node[oplbl, above=1.8pt of actx] (actx-l) {activatio\ddd};
\fanout{actx.east}{716.3}{axo}{40.6/sgray/fe/loss, 45.3/sgray/fe/training, 50.1/sor/fe/gradients, 54.8/sgray/fe/gradients\_1, 59.6/sgray/fe/gradients\_2}
\node[fanlbl, anchor=west] (axo-m) at (713,63.2) {\ddd{} 5 more};
\draw[fe] (actx.east) -- (axo-m.west);
\end{scope}
\end{tikzpicture}
\end{document}
